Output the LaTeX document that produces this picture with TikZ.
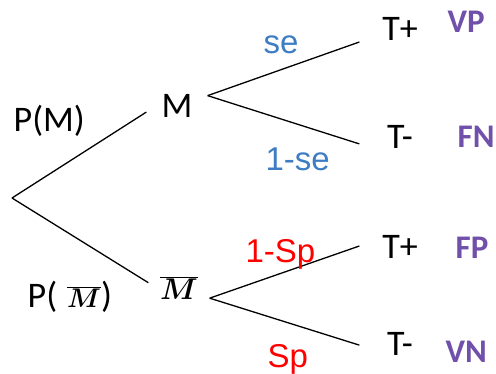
\RequirePackage{fix-cm}
\documentclass[tikz,border=0pt]{standalone}
\usepackage{fontspec}
\usepackage{xcolor}
\usepackage{tikz}
\setmainfont{Carlito}
\newfontfamily\armfont{Liberation Sans}
\definecolor{sensblue}{RGB}{62,125,195}
\definecolor{specred}{RGB}{255,0,0}
\definecolor{resviolet}{RGB}{112,80,170}
\newcommand{\notM}[1]{{\fontsize{#1}{#1}\selectfont\boldmath$\overline{M}$}}

\begin{document}
\begin{tikzpicture}[x=1pt, y=-1pt, line width=1.3pt,
  every node/.style={inner sep=0pt},
  event/.style={font=\fontsize{36}{40}\selectfont, text height=24pt, text depth=0pt, minimum width=60pt, anchor=base},
  leaf/.style={font=\fontsize{36}{40}\selectfont, text height=24pt, text depth=0pt, minimum width=80pt, minimum height=40pt, anchor=base},
  prob/.style={font=\fontsize{36}{40}\selectfont, anchor=base west},
  sens/.style={font=\armfont\fontsize{33}{36}\selectfont, text=sensblue, anchor=base west},
  spec/.style={sens, text=specred},
  result/.style={font=\bfseries\fontsize{33}{36}\selectfont, text=resviolet, anchor=base west}]
  \useasboundingbox (0,0) rectangle (496,373);
  \coordinate (root) at (12,198);
  % events
  \node[event] (M) at (177,117) {M};
  \node[event] (Mb) at (179,299) {\notM{30}};
  % test results
  \node[leaf] (Tp1) at (400,40) {T+};
  \node[leaf] (Tm1) at (400,148) {T-};
  \node[leaf] (Tp2) at (400,258) {T+};
  \node[leaf] (Tm2) at (400,355) {T-};
  % branches
  \draw (root) -- (M.193);
  \draw (root) -- (Mb.172);
  \draw (M.17) -- (Tp1.199);
  \draw (M.17) -- (Tm1.191);
  \draw (Mb.340) -- (Tp2.west);
  \draw (Mb.340) -- (Tm2.183);
  % probabilities
  \node[prob] (pM) at (13,131) {P(M)};
  \node[prob] (pMb) at (27,307) {P(\hspace{10pt}\notM{27})};
  \node[sens] (se) at (263,53) {se};
  \node[sens] (nse) at (265,170) {1-se};
  \node[spec] (nsp) at (245,262) {1-Sp};
  \node[spec] (sp) at (267,367) {Sp};
  % outcomes
  \node[result] (vp) at (447,32) {VP};
  \node[result] (fn) at (457,147) {FN};
  \node[result] (fp) at (455,258) {FP};
  \node[result] (vn) at (445,362) {VN};
\end{tikzpicture}
\end{document}
